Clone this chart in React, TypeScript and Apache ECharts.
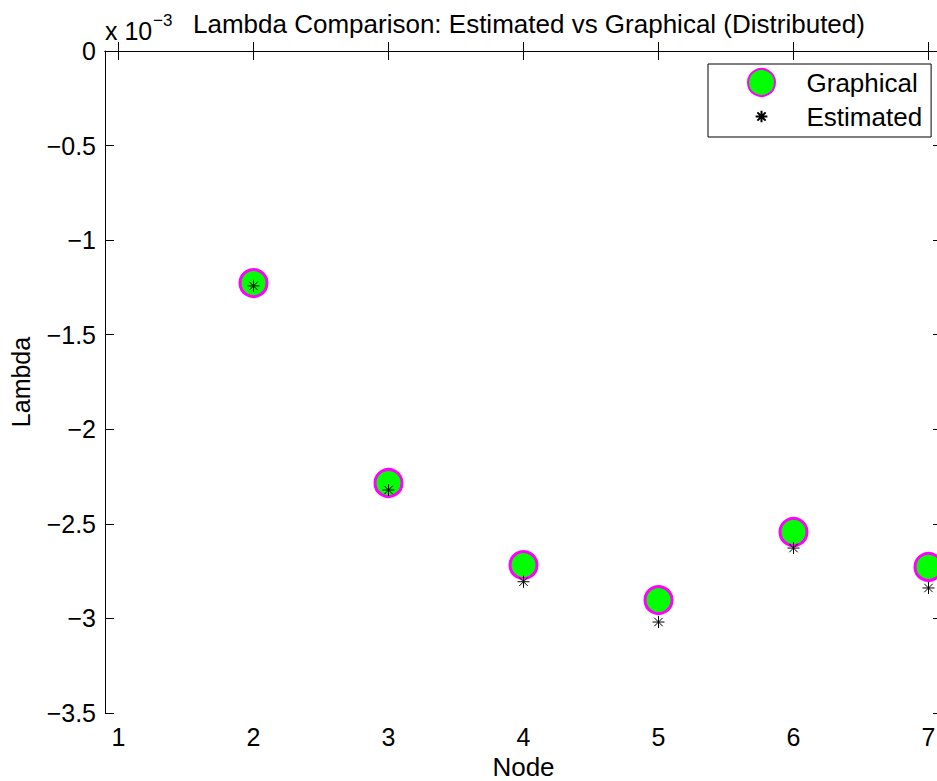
import React, { useEffect, useRef } from "react";
import * as echarts from "echarts";

const nodes = [2, 3, 4, 5, 6, 7];
const graphicalLambda = [-1.227, -2.284, -2.718, -2.903, -2.543, -2.728];
const estimatedLambda = [-1.242, -2.321, -2.806, -3.019, -2.628, -2.839];
const xTicks = [1, 2, 3, 4, 5, 6, 7];
const titleText = "Lambda Comparison: Estimated vs Graphical (Distributed)";

const FONT = '"Liberation Sans", Arial, Helvetica, sans-serif';
const STAR = "path://M0,-1L0,1M-1,0L1,0M-0.7,-0.7L0.7,0.7M-0.7,0.7L0.7,-0.7";
const STAR_LEGEND =
  "path://M-2.3,-2.3M2.3,2.3M0,-1L0,1M-1,0L1,0M-0.7,-0.7L0.7,0.7M-0.7,0.7L0.7,-0.7";

export default function App() {
  const ref = useRef<HTMLDivElement>(null);
  useEffect(() => {
    if (!ref.current) return;
    const chart = echarts.init(ref.current, undefined, { renderer: "svg" });
    const fmtY = (v: number) => (v === 0 ? "0" : "\u2212" + String(Math.abs(v)));
    const axisLine = { show: true, lineStyle: { color: "#000", width: 1 } };
    chart.setOption({
      animation: false,
      backgroundColor: "#fff",
      textStyle: { fontFamily: FONT },
      title: {
        text: titleText,
        left: 193,
        top: 11,
        padding: 0,
        textStyle: { fontFamily: FONT, fontSize: 26, fontWeight: "normal", color: "#000" },
      },
      graphic: [
        {
          type: "text",
          x: 105,
          y: 31,
          style: { text: "x 10", font: `25px ${FONT}`, fill: "#000", verticalAlign: "middle", align: "left" },
        },
        {
          type: "text",
          x: 153,
          y: 20,
          style: { text: "\u22123", font: `17px ${FONT}`, fill: "#000", verticalAlign: "middle", align: "left" },
        },
      ],
      grid: { left: 105, top: 51, width: 837, height: 662, containLabel: false, outerBoundsMode: "none" },
      legend: {
        orient: "vertical",
        left: 708,
        top: 64,
        padding: [4, 9, 6, 39],
        itemWidth: 80,
        itemHeight: 27,
        itemGap: 5,
        borderColor: "#000",
        borderWidth: 1,
        borderRadius: 0,
        backgroundColor: "#fff",
        textStyle: { fontFamily: FONT, fontSize: 26, color: "#000" },
        data: [
          { name: "Graphical", icon: "circle" },
          { name: "Estimated", icon: STAR_LEGEND },
        ],
        selectedMode: false,
      },
      xAxis: [
        {
          type: "value",
          min: 0.9,
          max: 7.1,
          position: "bottom",
          name: "Node",
          nameLocation: "middle",
          nameGap: 40,
          nameTextStyle: { fontFamily: FONT, fontSize: 26, color: "#000" },
          axisLine,
          axisTick: { show: true, inside: true, length: 9, customValues: xTicks, lineStyle: { color: "#000" } },
          axisLabel: { show: true, customValues: xTicks, margin: 11, fontFamily: FONT, fontSize: 25, color: "#000" },
          splitLine: { show: false },
        },
        {
          type: "value",
          min: 0.9,
          max: 7.1,
          position: "top",
          axisLine,
          axisTick: { show: true, inside: true, length: 9, customValues: xTicks, lineStyle: { color: "#000" } },
          axisLabel: { show: false },
          splitLine: { show: false },
        },
      ],
      yAxis: [
        {
          type: "value",
          min: -3.5,
          max: 0,
          interval: 0.5,
          position: "left",
          name: "Lambda",
          nameLocation: "middle",
          nameGap: 72,
          nameTextStyle: { fontFamily: FONT, fontSize: 25, color: "#000" },
          axisLine,
          axisTick: { show: true, inside: true, length: 9, lineStyle: { color: "#000" } },
          axisLabel: { show: true, margin: 9, fontFamily: FONT, fontSize: 25, color: "#000", formatter: fmtY },
          splitLine: { show: false },
        },
        {
          type: "value",
          min: -3.5,
          max: 0,
          interval: 0.5,
          position: "right",
          axisLine,
          axisTick: { show: true, inside: true, length: 9, lineStyle: { color: "#000" } },
          axisLabel: { show: false },
          splitLine: { show: false },
        },
      ],
      series: [
        {
          name: "Graphical",
          type: "scatter",
          xAxisIndex: 0,
          yAxisIndex: 0,
          symbol: "circle",
          symbolSize: 27,
          itemStyle: { color: "#00ff00", borderColor: "#ff00ff", borderWidth: 3, opacity: 1 },
          data: nodes.map((n, i) => [n, graphicalLambda[i]]),
          silent: true,
          clip: false,
        },
        {
          name: "Estimated",
          type: "scatter",
          xAxisIndex: 0,
          yAxisIndex: 0,
          symbol: STAR,
          symbolSize: 12,
          itemStyle: { color: "#000", borderColor: "#000", borderWidth: 1, opacity: 1 },
          data: nodes.map((n, i) => [n, estimatedLambda[i]]),
          silent: true,
          clip: false,
        },
      ],
    });
    return () => chart.dispose();
  }, []);
  return (
    <div
      ref={ref}
      style={{ position: "fixed", left: 0, top: 0, width: 937, height: 781, background: "#fff" }}
    />
  );
}
